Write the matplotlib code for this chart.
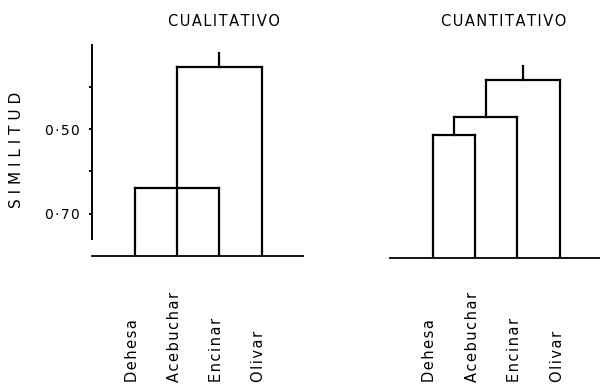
import matplotlib
matplotlib.use("Agg")
import matplotlib.pyplot as plt
import matplotlib.transforms as mtransforms
from matplotlib.ticker import FixedLocator, FuncFormatter

# Sites clustered in both dendrograms (leaf order left to right)
leaves = ["Dehesa", "Acebuchar", "Encinar", "Olivar"]

# Merges as (member node ids, similarity level); ids 0-3 are the leaves,
# each merge creates the next id in sequence.
cual_merges = [([0, 1, 2], 0.64), ([4, 3], 0.354)]
cual_root = 0.32

cuan_merges = [([0, 1], 0.51), ([4, 2], 0.467), ([5, 3], 0.379)]
cuan_root = 0.347

base_level = 0.80
major_ticks = [0.50, 0.70]
minor_ticks = [0.40, 0.60]
axis_span = (0.30, 0.76)

titles = ["CUALITATIVO", "CUANTITATIVO"]
ylabel = "SIMILITUD"

HAIR = "\u200a"


def spaced(s, sep=HAIR):
    return sep.join(s)


def draw_dendrogram(ax, merges, root, lw=1.6):
    xs = {i: float(i) for i in range(len(leaves))}
    ys = {i: base_level for i in range(len(leaves))}
    nid = len(leaves)
    kw = dict(color="black", lw=lw, solid_capstyle="projecting")
    for members, level in merges:
        cx = [xs[m] for m in members]
        for m in members:
            ax.plot([xs[m], xs[m]], [ys[m], level], **kw)
        ax.plot([min(cx), max(cx)], [level, level], **kw)
        xs[nid] = sum(cx) / len(cx)
        ys[nid] = level
        nid += 1
    top = nid - 1
    ax.plot([xs[top], xs[top]], [ys[top], root], **kw)


fig = plt.figure(figsize=(6.0, 3.84), dpi=100)
fig.patch.set_facecolor("white")

H = 384.0
W = 600.0
ylim = (base_level, 0.29)
ax_h = (ylim[0] - ylim[1]) * 423 / H

ax1 = fig.add_axes([92 / W, 128 / H, 211 / W, ax_h])
ax2 = fig.add_axes([390 / W, 126 / H, 210 / W, ax_h])

for ax, merges, root, xlim in [
    (ax1, cual_merges, cual_root, (-1.02, 3.98)),
    (ax2, cuan_merges, cuan_root, (-1.01, 3.95)),
]:
    draw_dendrogram(ax, merges, root)
    ax.set_xlim(*xlim)
    ax.set_ylim(*ylim)
    ax.set_facecolor("none")
    for side in ("top", "right"):
        ax.spines[side].set_visible(False)
    ax.spines["bottom"].set_linewidth(1.3)
    ax.set_xticks([])
    # leaf names, rotated, hanging at the bottom of the figure
    trans = mtransforms.blended_transform_factory(ax.transData, fig.transFigure)
    off = mtransforms.ScaledTranslation(-2 / 72, 0, fig.dpi_scale_trans)
    for i, name in enumerate(leaves):
        ax.text(i, 2 / H, spaced(name), rotation=90, ha="center", va="bottom",
                fontsize=10.5, transform=trans + off)

# similarity axis on the left dendrogram
ax1.spines["left"].set_bounds(*axis_span)
ax1.spines["left"].set_linewidth(1.4)
ax1.yaxis.set_major_locator(FixedLocator(major_ticks))
ax1.yaxis.set_minor_locator(FixedLocator(minor_ticks))
ax1.yaxis.set_major_formatter(
    FuncFormatter(lambda v, p: spaced(f"{v:.2f}".replace(".", "\u00b7"))))
ax1.tick_params(axis="y", which="both", length=2, width=1.4, direction="out",
                labelsize=10, pad=7)

ax2.spines["left"].set_visible(False)
ax2.set_yticks([])

fig.text(224 / W, 1 - 21 / H, spaced(titles[0]), ha="center", va="center", fontsize=10.5)
fig.text(504 / W, 1 - 22 / H, spaced(titles[1]), ha="center", va="center", fontsize=10.5)
fig.text(17 / W, 1 - 150 / H, " ".join(ylabel), rotation=90, ha="center",
         va="center", fontsize=11)

fig.savefig("out.png", dpi=100, facecolor="white")
